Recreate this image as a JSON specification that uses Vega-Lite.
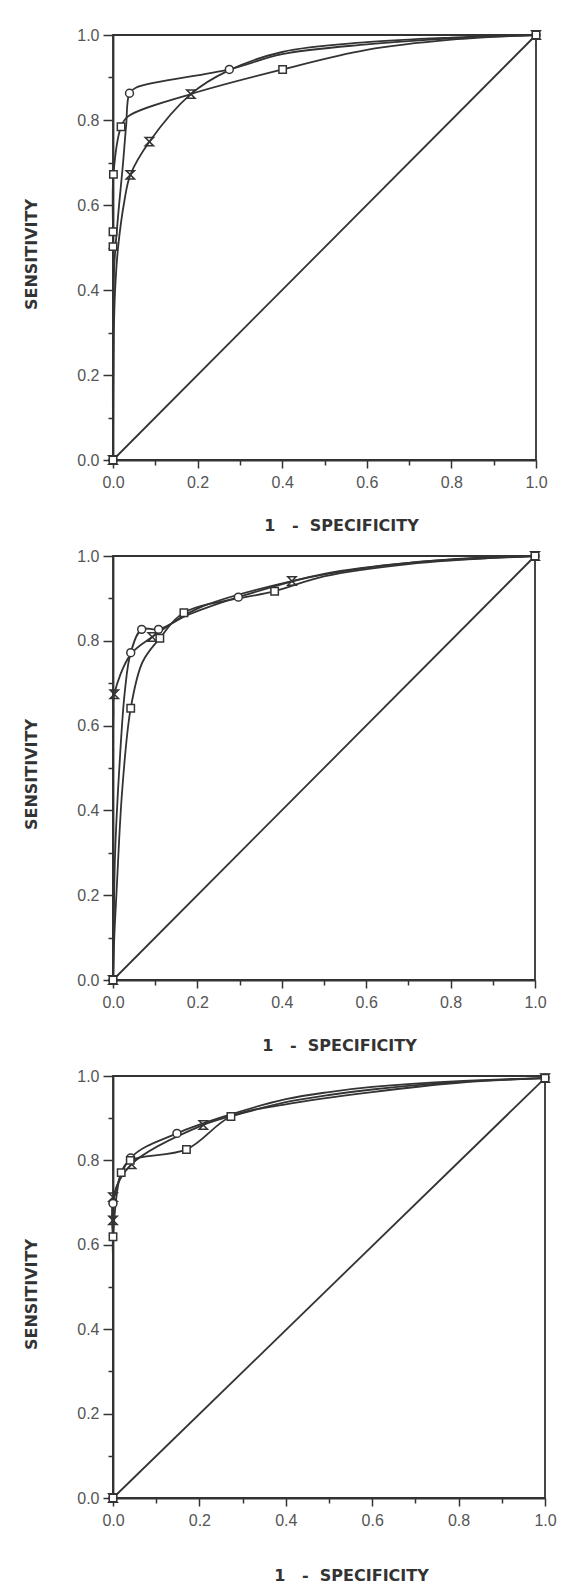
{
  "$schema": "https://vega.github.io/schema/vega-lite/v6.json",
  "background": "white",
  "padding": {"left": 22, "top": 26, "right": 5, "bottom": 5},
  "spacing": 13,
  "config": {
    "view": {"stroke": "#333333", "strokeWidth": 1.8},
    "axis": {
      "grid": false,
      "labelFlush": false,
      "labelOverlap": false,
      "domainColor": "#333333",
      "domainWidth": 1.8,
      "tickColor": "#333333",
      "tickWidth": 1.5,
      "labelFont": "Liberation Sans",
      "labelFontSize": 16,
      "labelColor": "#555555",
      "titleFont": "DejaVu Sans",
      "titleFontWeight": "bold",
      "titleFontSize": 16,
      "titleColor": "#333333"
    }
  },
  "datasets": {
    "roc": [
      {"p":1,"g":"d","x":0,"y":0,"m":0},{"p":1,"g":"d","x":1,"y":1,"m":0},
      {"p":1,"g":"a","x":0,"y":0,"m":1},{"p":1,"g":"a","x":0.002,"y":0.30,"m":0},{"p":1,"g":"a","x":0.005,"y":0.40,"m":0},{"p":1,"g":"a","x":0.012,"y":0.50,"m":0},{"p":1,"g":"a","x":0.027,"y":0.61,"m":0},{"p":1,"g":"a","x":0.041,"y":0.671,"m":1},{"p":1,"g":"a","x":0.086,"y":0.749,"m":1},{"p":1,"g":"a","x":0.184,"y":0.861,"m":1},{"p":1,"g":"a","x":0.27,"y":0.915,"m":0},{"p":1,"g":"a","x":0.4,"y":0.96,"m":0},{"p":1,"g":"a","x":0.6,"y":0.983,"m":0},{"p":1,"g":"a","x":0.8,"y":0.994,"m":0},{"p":1,"g":"a","x":1,"y":1,"m":1},
      {"p":1,"g":"c","x":0,"y":0,"m":1},{"p":1,"g":"c","x":0,"y":0.30,"m":0},{"p":1,"g":"c","x":0.003,"y":0.456,"m":0},{"p":1,"g":"c","x":0.012,"y":0.574,"m":0},{"p":1,"g":"c","x":0.023,"y":0.69,"m":0},{"p":1,"g":"c","x":0.031,"y":0.786,"m":0},{"p":1,"g":"c","x":0.039,"y":0.863,"m":1},{"p":1,"g":"c","x":0.054,"y":0.876,"m":0},{"p":1,"g":"c","x":0.275,"y":0.919,"m":1},{"p":1,"g":"c","x":0.4,"y":0.955,"m":0},{"p":1,"g":"c","x":0.6,"y":0.978,"m":0},{"p":1,"g":"c","x":0.8,"y":0.992,"m":0},{"p":1,"g":"c","x":1,"y":1,"m":1},
      {"p":1,"g":"s","x":0,"y":0,"m":1},{"p":1,"g":"s","x":0,"y":0.25,"m":0},{"p":1,"g":"s","x":0,"y":0.502,"m":1},{"p":1,"g":"s","x":0,"y":0.537,"m":1},{"p":1,"g":"s","x":0.001,"y":0.672,"m":1},{"p":1,"g":"s","x":0.019,"y":0.784,"m":1},{"p":1,"g":"s","x":0.035,"y":0.808,"m":0},{"p":1,"g":"s","x":0.184,"y":0.861,"m":0},{"p":1,"g":"s","x":0.401,"y":0.919,"m":1},{"p":1,"g":"s","x":0.6,"y":0.965,"m":0},{"p":1,"g":"s","x":0.8,"y":0.989,"m":0},{"p":1,"g":"s","x":1,"y":1,"m":1},

      {"p":2,"g":"d","x":0,"y":0,"m":0},{"p":2,"g":"d","x":1,"y":1,"m":0},
      {"p":2,"g":"a","x":0,"y":0,"m":1},{"p":2,"g":"a","x":0,"y":0.3,"m":0},{"p":2,"g":"a","x":0,"y":0.55,"m":0},{"p":2,"g":"a","x":0.001,"y":0.63,"m":0},{"p":2,"g":"a","x":0.003,"y":0.674,"m":1},{"p":2,"g":"a","x":0.042,"y":0.768,"m":0},{"p":2,"g":"a","x":0.093,"y":0.809,"m":1},{"p":2,"g":"a","x":0.2,"y":0.876,"m":0},{"p":2,"g":"a","x":0.424,"y":0.941,"m":1},{"p":2,"g":"a","x":0.6,"y":0.972,"m":0},{"p":2,"g":"a","x":0.8,"y":0.992,"m":0},{"p":2,"g":"a","x":1,"y":1,"m":1},
      {"p":2,"g":"c","x":0,"y":0,"m":1},{"p":2,"g":"c","x":0.002,"y":0.15,"m":0},{"p":2,"g":"c","x":0.005,"y":0.3,"m":0},{"p":2,"g":"c","x":0.015,"y":0.5,"m":0},{"p":2,"g":"c","x":0.028,"y":0.68,"m":0},{"p":2,"g":"c","x":0.042,"y":0.772,"m":1},{"p":2,"g":"c","x":0.068,"y":0.827,"m":1},{"p":2,"g":"c","x":0.108,"y":0.827,"m":1},{"p":2,"g":"c","x":0.18,"y":0.862,"m":0},{"p":2,"g":"c","x":0.297,"y":0.903,"m":1},{"p":2,"g":"c","x":0.5,"y":0.958,"m":0},{"p":2,"g":"c","x":0.7,"y":0.984,"m":0},{"p":2,"g":"c","x":1,"y":1,"m":1},
      {"p":2,"g":"s","x":0,"y":0,"m":1},{"p":2,"g":"s","x":0.003,"y":0.1,"m":0},{"p":2,"g":"s","x":0.009,"y":0.22,"m":0},{"p":2,"g":"s","x":0.022,"y":0.45,"m":0},{"p":2,"g":"s","x":0.042,"y":0.641,"m":1},{"p":2,"g":"s","x":0.07,"y":0.75,"m":0},{"p":2,"g":"s","x":0.111,"y":0.806,"m":1},{"p":2,"g":"s","x":0.168,"y":0.866,"m":1},{"p":2,"g":"s","x":0.383,"y":0.917,"m":1},{"p":2,"g":"s","x":0.5,"y":0.952,"m":0},{"p":2,"g":"s","x":0.7,"y":0.981,"m":0},{"p":2,"g":"s","x":1,"y":1,"m":1},

      {"p":3,"g":"d","x":0,"y":0,"m":0},{"p":3,"g":"d","x":1,"y":0.995,"m":0},
      {"p":3,"g":"a","x":0,"y":0,"m":1},{"p":3,"g":"a","x":0,"y":0.3,"m":0},{"p":3,"g":"a","x":0,"y":0.6,"m":0},{"p":3,"g":"a","x":0,"y":0.658,"m":1},{"p":3,"g":"a","x":0,"y":0.713,"m":1},{"p":3,"g":"a","x":0.043,"y":0.791,"m":1},{"p":3,"g":"a","x":0.209,"y":0.884,"m":1},{"p":3,"g":"a","x":0.3,"y":0.912,"m":0},{"p":3,"g":"a","x":0.4,"y":0.938,"m":0},{"p":3,"g":"a","x":0.5,"y":0.955,"m":0},{"p":3,"g":"a","x":0.6,"y":0.968,"m":0},{"p":3,"g":"a","x":0.8,"y":0.986,"m":0},{"p":3,"g":"a","x":1,"y":0.995,"m":1},
      {"p":3,"g":"c","x":0,"y":0,"m":1},{"p":3,"g":"c","x":0,"y":0.3,"m":0},{"p":3,"g":"c","x":0,"y":0.6,"m":0},{"p":3,"g":"c","x":0,"y":0.698,"m":1},{"p":3,"g":"c","x":0.041,"y":0.806,"m":1},{"p":3,"g":"c","x":0.148,"y":0.864,"m":1},{"p":3,"g":"c","x":0.26,"y":0.905,"m":0},{"p":3,"g":"c","x":0.4,"y":0.945,"m":0},{"p":3,"g":"c","x":0.5,"y":0.962,"m":0},{"p":3,"g":"c","x":0.6,"y":0.974,"m":0},{"p":3,"g":"c","x":0.8,"y":0.988,"m":0},{"p":3,"g":"c","x":1,"y":0.995,"m":1},
      {"p":3,"g":"s","x":0,"y":0,"m":1},{"p":3,"g":"s","x":0,"y":0.3,"m":0},{"p":3,"g":"s","x":0,"y":0.56,"m":0},{"p":3,"g":"s","x":0,"y":0.619,"m":1},{"p":3,"g":"s","x":0.019,"y":0.771,"m":1},{"p":3,"g":"s","x":0.04,"y":0.80,"m":1},{"p":3,"g":"s","x":0.170,"y":0.826,"m":1},{"p":3,"g":"s","x":0.273,"y":0.904,"m":1},{"p":3,"g":"s","x":0.4,"y":0.933,"m":0},{"p":3,"g":"s","x":0.6,"y":0.962,"m":0},{"p":3,"g":"s","x":0.8,"y":0.984,"m":0},{"p":3,"g":"s","x":1,"y":0.995,"m":1}
    ]
  },
  "vconcat": [
    {
      "width": 423, "height": 425,
      "data": {"name": "roc"},
      "transform": [{"filter": "datum.p == 1"}],
      "encoding": {
        "x": {"field": "x", "type": "quantitative", "scale": {"domain": [0, 1], "nice": false},
          "axis": {"values": [0,0.1,0.2,0.3,0.4,0.5,0.6,0.7,0.8,0.9,1], "labelExpr": "round(datum.value*10)%2==0 ? format(datum.value,'.1f') : ''", "tickSize": {"condition": {"test": "round(datum.value*10)%2==0", "value": 8}, "value": 5}, "labelPadding": 6, "title": "1\u00a0\u00a0\u00a0-\u00a0\u00a0SPECIFICITY", "titlePadding": 27, "titleX": 228}},
        "y": {"field": "y", "type": "quantitative", "scale": {"domain": [0, 1], "nice": false},
          "axis": {"values": [0,0.1,0.2,0.3,0.4,0.5,0.6,0.7,0.8,0.9,1], "labelExpr": "round(datum.value*10)%2==0 ? format(datum.value,'.1f') : ''", "tickSize": {"condition": {"test": "round(datum.value*10)%2==0", "value": 10}, "value": 5}, "labelPadding": 4, "title": "SENSITIVITY", "titlePadding": 37, "titleY": 219}}
      },
      "layer": [
        {"mark": {"type": "line", "interpolate": "catmull-rom", "clip": false, "color": "#333333"},
         "encoding": {"detail": {"field": "g"}, "order": {"value": null},
           "strokeWidth": {"field": "g", "type": "nominal", "scale": {"domain": ["a","c","s","d"], "range": [1.8,1.8,1.8,1.3]}, "legend": null}}},
        {"transform": [{"filter": "datum.m == 1"}],
         "mark": {"type": "point", "filled": true, "stroke": "#333333", "strokeWidth": 1.5, "opacity": 1, "clip": false},
         "encoding": {
           "shape": {"field": "g", "type": "nominal", "scale": {"domain": ["a","c","s"], "range": ["M-1,-1L1,-1L-1,1L1,1Z", "circle", "square"]}, "legend": null},
           "fill": {"field": "g", "type": "nominal", "scale": {"domain": ["a","c","s"], "range": ["transparent","white","white"]}, "legend": null},
           "size": {"field": "g", "type": "nominal", "scale": {"domain": ["a","c","s"], "range": [70, 55, 64]}, "legend": null}
         }}
      ]
    },
    {
      "width": 422, "height": 424,
      "data": {"name": "roc"},
      "transform": [{"filter": "datum.p == 2"}],
      "encoding": {
        "x": {"field": "x", "type": "quantitative", "scale": {"domain": [0, 1], "nice": false},
          "axis": {"values": [0,0.1,0.2,0.3,0.4,0.5,0.6,0.7,0.8,0.9,1], "labelExpr": "round(datum.value*10)%2==0 ? format(datum.value,'.1f') : ''", "tickSize": {"condition": {"test": "round(datum.value*10)%2==0", "value": 8}, "value": 5}, "labelPadding": 6, "title": "1\u00a0\u00a0\u00a0-\u00a0\u00a0SPECIFICITY", "titlePadding": 27, "titleX": 226}},
        "y": {"field": "y", "type": "quantitative", "scale": {"domain": [0, 1], "nice": false},
          "axis": {"values": [0,0.1,0.2,0.3,0.4,0.5,0.6,0.7,0.8,0.9,1], "labelExpr": "round(datum.value*10)%2==0 ? format(datum.value,'.1f') : ''", "tickSize": {"condition": {"test": "round(datum.value*10)%2==0", "value": 10}, "value": 5}, "labelPadding": 4, "title": "SENSITIVITY", "titlePadding": 37, "titleY": 218}}
      },
      "layer": [
        {"mark": {"type": "line", "interpolate": "catmull-rom", "clip": false, "color": "#333333"},
         "encoding": {"detail": {"field": "g"}, "order": {"value": null},
           "strokeWidth": {"field": "g", "type": "nominal", "scale": {"domain": ["a","c","s","d"], "range": [1.8,1.8,1.8,1.3]}, "legend": null}}},
        {"transform": [{"filter": "datum.m == 1"}],
         "mark": {"type": "point", "filled": true, "stroke": "#333333", "strokeWidth": 1.5, "opacity": 1, "clip": false},
         "encoding": {
           "shape": {"field": "g", "type": "nominal", "scale": {"domain": ["a","c","s"], "range": ["M-1,-1L1,-1L-1,1L1,1Z", "circle", "square"]}, "legend": null},
           "fill": {"field": "g", "type": "nominal", "scale": {"domain": ["a","c","s"], "range": ["transparent","white","white"]}, "legend": null},
           "size": {"field": "g", "type": "nominal", "scale": {"domain": ["a","c","s"], "range": [70, 55, 64]}, "legend": null}
         }}
      ]
    },
    {
      "width": 432, "height": 422,
      "data": {"name": "roc"},
      "transform": [{"filter": "datum.p == 3"}],
      "encoding": {
        "x": {"field": "x", "type": "quantitative", "scale": {"domain": [0, 1], "nice": false},
          "axis": {"values": [0,0.1,0.2,0.3,0.4,0.5,0.6,0.7,0.8,0.9,1], "labelExpr": "round(datum.value*10)%2==0 ? format(datum.value,'.1f') : ''", "tickSize": {"condition": {"test": "round(datum.value*10)%2==0", "value": 8}, "value": 5}, "labelPadding": 6, "title": "1\u00a0\u00a0\u00a0-\u00a0\u00a0SPECIFICITY", "titlePadding": 39, "titleX": 238}},
        "y": {"field": "y", "type": "quantitative", "scale": {"domain": [0, 1], "nice": false},
          "axis": {"values": [0,0.1,0.2,0.3,0.4,0.5,0.6,0.7,0.8,0.9,1], "labelExpr": "round(datum.value*10)%2==0 ? format(datum.value,'.1f') : ''", "tickSize": {"condition": {"test": "round(datum.value*10)%2==0", "value": 10}, "value": 5}, "labelPadding": 4, "title": "SENSITIVITY", "titlePadding": 37, "titleY": 218}}
      },
      "layer": [
        {"mark": {"type": "line", "interpolate": "catmull-rom", "clip": false, "color": "#333333"},
         "encoding": {"detail": {"field": "g"}, "order": {"value": null},
           "strokeWidth": {"field": "g", "type": "nominal", "scale": {"domain": ["a","c","s","d"], "range": [1.8,1.8,1.8,1.3]}, "legend": null}}},
        {"transform": [{"filter": "datum.m == 1"}],
         "mark": {"type": "point", "filled": true, "stroke": "#333333", "strokeWidth": 1.5, "opacity": 1, "clip": false},
         "encoding": {
           "shape": {"field": "g", "type": "nominal", "scale": {"domain": ["a","c","s"], "range": ["M-1,-1L1,-1L-1,1L1,1Z", "circle", "square"]}, "legend": null},
           "fill": {"field": "g", "type": "nominal", "scale": {"domain": ["a","c","s"], "range": ["transparent","white","white"]}, "legend": null},
           "size": {"field": "g", "type": "nominal", "scale": {"domain": ["a","c","s"], "range": [70, 55, 64]}, "legend": null}
         }}
      ]
    }
  ]
}
